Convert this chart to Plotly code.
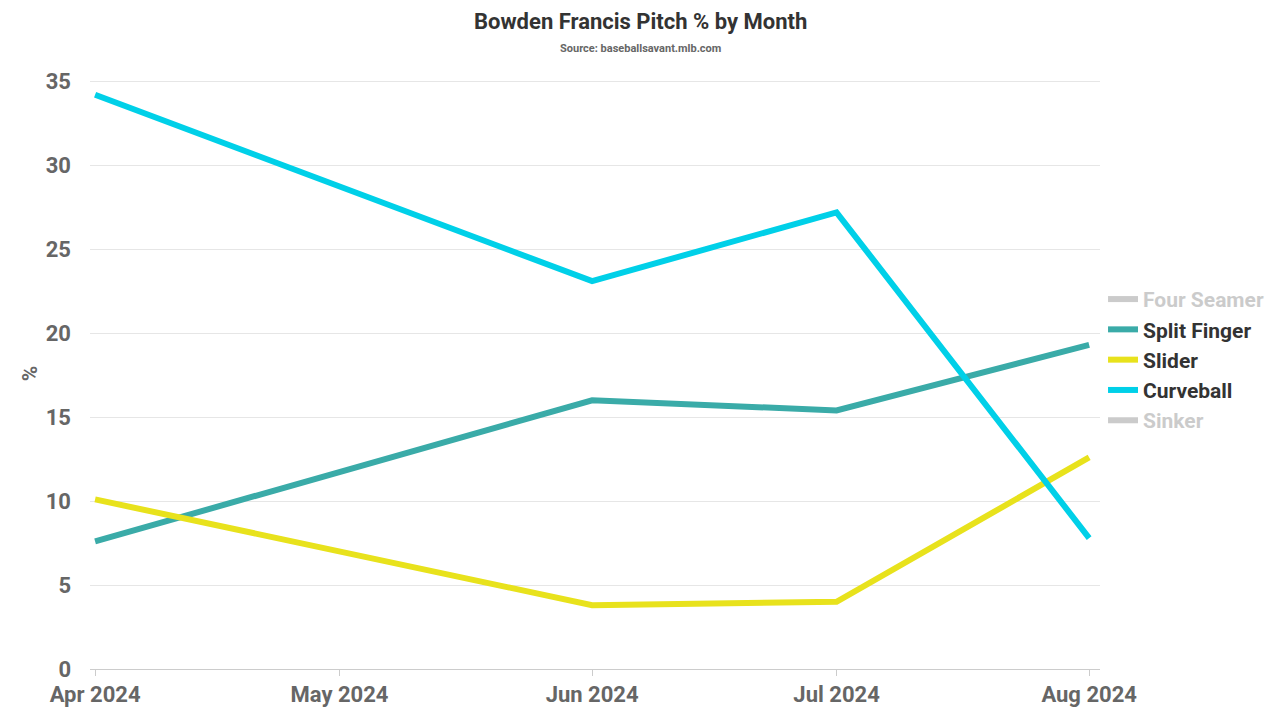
import plotly.graph_objects as go

months = ["2024-04-01", "2024-06-01", "2024-07-01", "2024-08-01"]
split_finger = [7.6, 16.0, 15.4, 19.3]
slider = [10.1, 3.8, 4.0, 12.6]
curveball = [34.2, 23.1, 27.2, 7.8]
hidden = [None, None, None, None]

series = [
    ("Four Seamer", months, hidden, "#999999", "legendonly"),
    ("Split Finger", months, split_finger, "#3aaba8", True),
    ("Slider", months, slider, "#e8e21c", True),
    ("Curveball", months, curveball, "#00d0e8", True),
    ("Sinker", months, hidden, "#999999", "legendonly"),
]

fig = go.Figure()
for name, xs, ys, color, vis in series:
    label = name if vis is True else f"<span style='color:#999999'>{name}</span>"
    fig.add_trace(go.Scatter(
        x=xs, y=ys, name=label, mode="lines", visible=vis,
        line=dict(color=color, width=6),
        hovertemplate="%{y:.1f}%<extra>" + name + "</extra>",
    ))

font_family = "Roboto, 'Open Sans', sans-serif"
fig.update_layout(
    width=1280, height=720,
    margin=dict(l=90, r=180, t=78, b=51, autoexpand=False),
    paper_bgcolor="white", plot_bgcolor="white",
    font=dict(family=font_family, color="#666666"),
    showlegend=True,
    legend=dict(
        x=1.003, xanchor="left", y=0.523, yanchor="middle",
        font=dict(size=21, color="#333333", family=font_family, weight="bold"),
        itemwidth=30, tracegroupgap=0,
        bgcolor="rgba(0,0,0,0)",
    ),
    xaxis=dict(
        type="date",
        range=["2024-03-31 09:00", "2024-08-02 08:00"],
        tickvals=["2024-04-01", "2024-05-01", "2024-06-01", "2024-07-01", "2024-08-01"],
        ticktext=["Apr 2024", "May 2024", "Jun 2024", "Jul 2024", "Aug 2024"],
        showgrid=False, showline=True, linecolor="#cccccc", linewidth=1,
        ticks="outside", ticklen=6, tickcolor="#cccccc",
        tickfont=dict(size=22, color="#666666", family=font_family, weight="bold"),
        zeroline=False,
    ),
    yaxis=dict(
        range=[0, 35.2],
        tickvals=[0, 5, 10, 15, 20, 25, 30, 35],
        showgrid=True, gridcolor="#e6e6e6", gridwidth=1,
        zeroline=False, showline=False,
        ticks="", ticklabelstandoff=18,
        tickfont=dict(size=22, color="#666666", family=font_family, weight="bold"),
        title=dict(text="<b>%</b>", font=dict(size=21, color="#666666", family=font_family), standoff=2),
    ),
    annotations=[
        dict(text="<b>Bowden Francis Pitch % by Month</b>", xref="paper", yref="paper",
             x=0.5, y=1, xanchor="center", yanchor="middle", showarrow=False,
             xshift=45, yshift=78 - 21,
             font=dict(size=22, color="#333333", family=font_family)),
        dict(text="<b>Source: baseballsavant.mlb.com</b>", xref="paper", yref="paper",
             x=0.5, y=1, xanchor="center", yanchor="middle", showarrow=False,
             xshift=45, yshift=78 - 48,
             font=dict(size=11, color="#666666", family=font_family)),
    ],
)

fig.write_html("out.html")
